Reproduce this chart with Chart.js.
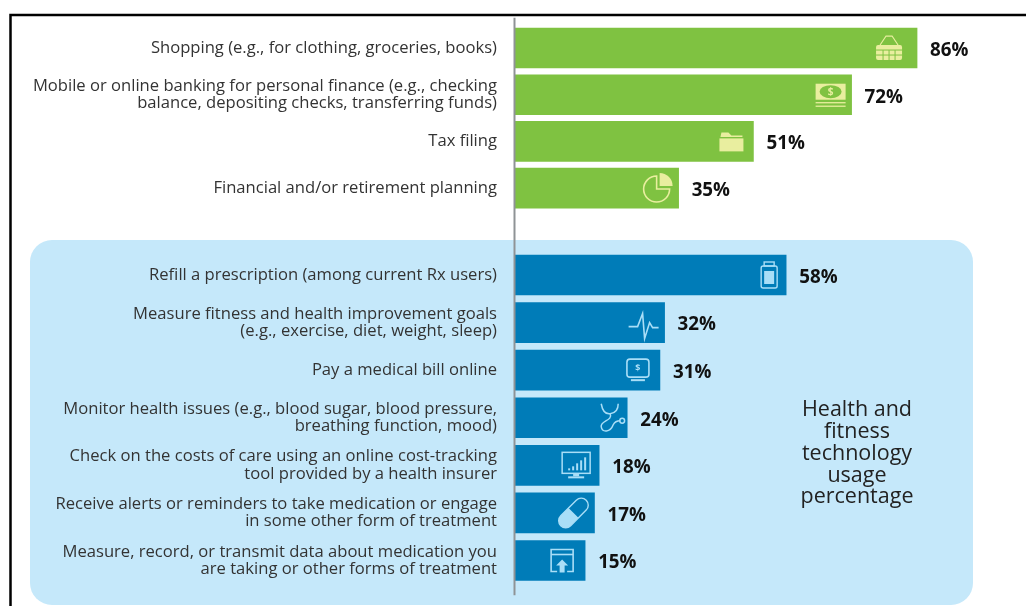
<!DOCTYPE html>
<html>
<head>
<meta charset="utf-8">
<style>
  body { margin: 0; background: #fff; }
  canvas { display: block; }
</style>
</head>
<body>
<canvas id="usageChart" width="1026" height="606"></canvas>
<script src="https://cdn.jsdelivr.net/npm/chart.js@4"></script>
<script>
const generalLabels = [
  'Shopping (e.g., for clothing, groceries, books)',
  ['Mobile or online banking for personal finance (e.g., checking', 'balance, depositing checks, transferring funds)'],
  'Tax filing',
  'Financial and/or retirement planning'
];
const generalValues = [86, 72, 51, 35];
const generalIcons = ['basket', 'money', 'folder', 'pie'];

const healthLabels = [
  'Refill a prescription (among current Rx users)',
  ['Measure fitness and health improvement goals', '(e.g., exercise, diet, weight, sleep)'],
  'Pay a medical bill online',
  ['Monitor health issues (e.g., blood sugar, blood pressure,', 'breathing function, mood)'],
  ['Check on the costs of care using an online cost-tracking', 'tool provided by a health insurer'],
  ['Receive alerts or reminders to take medication or engage', 'in some other form of treatment'],
  ['Measure, record, or transmit data about medication you', 'are taking or other forms of treatment']
];
const healthValues = [58, 32, 31, 24, 18, 17, 15];
const healthIcons = ['bottle', 'pulse', 'billScreen', 'stethoscope', 'chartScreen', 'pill', 'upload'];

const panelTitle = ['Health and', 'fitness', 'technology', 'usage', 'percentage'];

const GREEN = '#7fc241';
const BLUE = '#007cb8';
const GREEN_ICON = '#e9ee9f';
const BLUE_ICON = '#a9def7';
const PANEL = '#c5e8fa';
const TEXT = '#333333';
const AXIS_LEFT = 515;

function roundRect(c, x, y, w, h, r) {
  c.beginPath();
  c.roundRect(x, y, w, h, r);
}

function line(c, pts) {
  c.beginPath();
  pts.forEach((p, i) => i ? c.lineTo(p[0], p[1]) : c.moveTo(p[0], p[1]));
  c.stroke();
}

// small pictograms, each drawn around its own centre
const icons = {
  basket: { dx: -28, dy: 0, draw(c, fg, bg) {
    c.lineWidth = 1.2;
    line(c, [[-9, -3], [-3, -12], [3, -12], [9, -3]]);
    roundRect(c, -13, -3, 26, 15, 2);
    c.fill();
    c.strokeStyle = bg;
    c.lineWidth = 1;
    line(c, [[-13, 2], [13, 2]]);
    line(c, [[-13, 7], [13, 7]]);
    [-6, 0, 6].forEach(x => line(c, [[x, 2], [x, 12]]));
  } },
  money: { dx: -21, dy: 0, draw(c, fg, bg) {
    c.fillRect(-15, -11, 30, 16);
    c.fillStyle = bg;
    c.beginPath();
    c.ellipse(0, -3, 11, 6.5, 0, 0, Math.PI * 2);
    c.fill();
    c.fillStyle = fg;
    c.font = 'bold 10px "Open Sans"';
    c.textAlign = 'center';
    c.textBaseline = 'middle';
    c.fillText('$', 0, -3);
    c.lineWidth = 1.3;
    line(c, [[-15, 8], [15, 8]]);
    line(c, [[-15, 11.5], [15, 11.5]]);
  } },
  folder: { dx: -22, dy: 0, draw(c) {
    c.beginPath();
    c.moveTo(-10, -9);
    c.lineTo(-3, -9);
    c.lineTo(0, -6);
    c.lineTo(11, -6);
    c.lineTo(11, -4.5);
    c.lineTo(-11, -4.5);
    c.closePath();
    c.fill();
    c.fillRect(-12, -3, 24, 13);
  } },
  pie: { dx: -20, dy: 0, draw(c) {
    c.lineWidth = 1.6;
    c.beginPath();
    c.moveTo(-2, -12);
    c.arc(-2, 1, 13, -Math.PI / 2, 0, true);
    c.lineTo(-2, 1);
    c.closePath();
    c.stroke();
    c.beginPath();
    c.moveTo(1, -2);
    c.lineTo(1, -15);
    c.arc(1, -2, 13, -Math.PI / 2, 0);
    c.closePath();
    c.fill();
  } },
  bottle: { dx: -17, dy: 0, draw(c) {
    c.lineWidth = 1.4;
    c.strokeRect(-5, -13, 10, 4);
    roundRect(c, -8, -9, 16, 22, 2);
    c.stroke();
    c.fillRect(-5, -4, 10, 13);
  } },
  pulse: { dx: -21, dy: 3, draw(c) {
    c.lineWidth = 1.6;
    line(c, [[-15, 1], [-6, 1], [-1, -12], [1, 13], [6, -3], [9, 2], [15, 2]]);
  } },
  billScreen: { dx: -22, dy: 0, draw(c, fg) {
    c.lineWidth = 1.6;
    roundRect(c, -11, -11, 22, 18, 3);
    c.stroke();
    c.fillRect(-7, 9, 14, 2);
    c.font = 'bold 9px "Open Sans"';
    c.textAlign = 'center';
    c.textBaseline = 'middle';
    c.fillText('$', 0, -2);
  } },
  stethoscope: { dx: -15, dy: 0, draw(c) {
    c.lineWidth = 1.5;
    c.beginPath();
    c.moveTo(-11, -14);
    c.quadraticCurveTo(-9, -3, -2, -4);
    c.quadraticCurveTo(6, -5, 6, -14);
    c.stroke();
    c.beginPath();
    c.moveTo(-2, -4);
    c.bezierCurveTo(1, 3, -12, 3, -11, 9);
    c.bezierCurveTo(-10, 15, -2, 15, 1, 7);
    c.quadraticCurveTo(3, 3, 8, 3);
    c.stroke();
    c.beginPath();
    c.arc(10, 3, 2.4, 0, Math.PI * 2);
    c.stroke();
  } },
  chartScreen: { dx: -23, dy: 0, draw(c) {
    c.lineWidth = 1.5;
    c.strokeRect(-14, -13, 28, 21);
    c.fillRect(-3, 8, 6, 3);
    c.fillRect(-8, 11, 16, 2);
    [[-8, 2], [-4, 4], [0, 7], [4, 10], [8, 13]].forEach(b => c.fillRect(b[0], 5 - b[1], 2, b[1]));
  } },
  pill: { dx: -21, dy: 0, draw(c, fg) {
    c.save();
    c.rotate(-Math.PI / 4);
    c.lineWidth = 1.4;
    roundRect(c, -18, -7, 36, 14, 7);
    c.stroke();
    c.beginPath();
    c.roundRect(-18, -7, 18, 14, [7, 0, 0, 7]);
    c.fill();
    c.restore();
  } },
  upload: { dx: -23, dy: 0, draw(c, fg, bg) {
    c.lineWidth = 1.6;
    line(c, [[-5, 11], [-11, 11], [-11, -11], [11, -11], [11, 11], [5, 11]]);
    line(c, [[-11, -6], [11, -6]]);
    c.beginPath();
    c.moveTo(0, -1);
    c.lineTo(6, 5);
    c.lineTo(2.5, 5);
    c.lineTo(2.5, 12);
    c.lineTo(-2.5, 12);
    c.lineTo(-2.5, 5);
    c.lineTo(-6, 5);
    c.closePath();
    c.fill();
  } }
};

const backdrop = {
  id: 'backdrop',
  beforeDraw(chart) {
    const c = chart.ctx;
    c.save();
    // outer frame, open at the bottom and right
    c.strokeStyle = '#000';
    c.lineWidth = 2.5;
    line(c, [[10.5, 606], [10.5, 15], [1026, 15]]);
    c.fillStyle = PANEL;
    roundRect(c, 30, 240, 943, 365, 22);
    c.fill();
    c.restore();
  },
  afterDraw(chart) {
    const c = chart.ctx;
    const area = chart.chartArea;
    c.save();
    c.strokeStyle = '#8f9396';
    c.lineWidth = 2;
    line(c, [[AXIS_LEFT - 0.5, area.top - 7], [AXIS_LEFT - 0.5, area.bottom + 11]]);
    c.fillStyle = '#222222';
    c.font = '21.5px "Open Sans"';
    c.textAlign = 'center';
    c.textBaseline = 'middle';
    panelTitle.forEach((t, i) => c.fillText(t, 857, 410 + i * 21.8));
    c.restore();
  }
};

const barExtras = {
  id: 'barExtras',
  afterDatasetsDraw(chart) {
    const c = chart.ctx;
    chart.data.datasets.forEach((ds, di) => {
      chart.getDatasetMeta(di).data.forEach((bar, i) => {
        c.save();
        c.fillStyle = '#111111';
        c.font = 'bold 18.8px "Open Sans"';
        c.textAlign = 'left';
        c.textBaseline = 'middle';
        c.fillText(ds.data[i] + '%', bar.x + 13, bar.y + 2.5);
        c.restore();

        const icon = icons[ds.icons[i]];
        c.save();
        c.translate(bar.x + icon.dx, bar.y + icon.dy);
        c.fillStyle = ds.iconColor;
        c.strokeStyle = ds.iconColor;
        icon.draw(c, ds.iconColor, ds.backgroundColor);
        c.restore();
      });
    });
  }
};

function rowAxis(labels, weight, order) {
  return {
    type: 'category',
    labels: labels,
    position: 'left',
    stack: 'rows',
    stackWeight: weight,
    weight: order,
    offset: true,
    afterFit(scale) {
      scale.width = AXIS_LEFT;
      // long labels must not push the plot area in
      scale.paddingTop = 0;
      scale.paddingBottom = 0;
    },
    grid: { display: false, drawTicks: false },
    border: { display: false },
    ticks: {
      autoSkip: false,
      crossAlign: 'near',
      padding: 18,
      color: TEXT,
      font: { family: '"Open Sans"', size: 16.6, lineHeight: 1.05 }
    }
  };
}

new Chart(document.getElementById('usageChart'), {
  type: 'bar',
  data: {
    datasets: [
      {
        data: generalValues,
        yAxisID: 'yGeneral',
        backgroundColor: GREEN,
        barThickness: 40,
        grouped: false,
        icons: generalIcons,
        iconColor: GREEN_ICON
      },
      {
        data: healthValues,
        yAxisID: 'yHealth',
        backgroundColor: BLUE,
        barThickness: 40,
        grouped: false,
        icons: healthIcons,
        iconColor: BLUE_ICON
      }
    ]
  },
  plugins: [backdrop, barExtras],
  options: {
    indexAxis: 'y',
    responsive: false,
    animation: false,
    layout: { padding: { top: 24.7, bottom: 21.7, left: 0, right: 43.5 } },
    plugins: {
      legend: { display: false },
      tooltip: { enabled: false }
    },
    scales: {
      x: { display: false, min: 0, max: 100 },
      // stacked axes are laid out from the highest weight down
      yGeneral: rowAxis(generalLabels, 186.7, 3),
      ySpacer: rowAxis([''], 39.8, 2),
      yHealth: rowAxis(healthLabels, 333.1, 1)
    }
  }
});
</script>
</body>
</html>
